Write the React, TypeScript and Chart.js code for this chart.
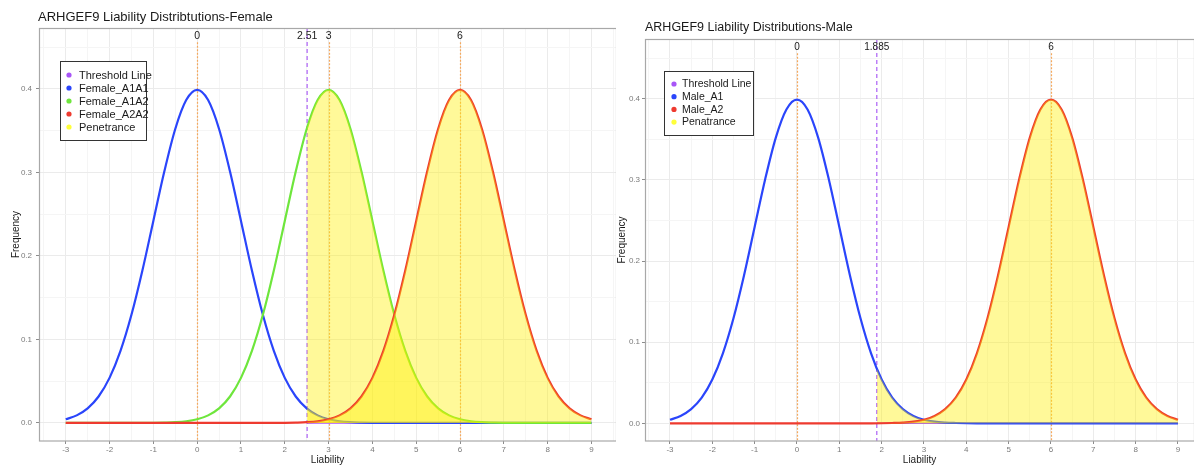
import React, { useEffect, useRef } from "react";
import { Chart, registerables } from "chart.js";

Chart.register(...registerables);

const FONT = '"Liberation Sans", Arial, Helvetica, sans-serif';

// ---------------- data ----------------
const xLiability = [
  -3, -2.75, -2.5, -2.25, -2, -1.75, -1.5, -1.25, -1, -0.75, -0.5, -0.25, 0,
  0.25, 0.5, 0.75, 1, 1.25, 1.5, 1.75, 2, 2.25, 2.5, 2.75, 3, 3.25, 3.5, 3.75,
  4, 4.25, 4.5, 4.75, 5, 5.25, 5.5, 5.75, 6, 6.25, 6.5, 6.75, 7, 7.25, 7.5,
  7.75, 8, 8.25, 8.5, 8.75, 9,
];

const femaleA1A1 = [
  0.0044, 0.0091, 0.0175, 0.0317, 0.054, 0.0863, 0.1295, 0.1826, 0.242, 0.3011,
  0.3521, 0.3867, 0.3989, 0.3867, 0.3521, 0.3011, 0.242, 0.1826, 0.1295, 0.0863,
  0.054, 0.0317, 0.0175, 0.0091, 0.0044, 0.002, 0.0009, 0.0004, 0.0001, 0, 0, 0,
  0, 0, 0, 0, 0, 0, 0, 0, 0, 0, 0, 0, 0, 0, 0, 0, 0,
];
const femaleA1A2 = [
  0, 0, 0, 0, 0, 0, 0, 0, 0.0001, 0.0004, 0.0009, 0.002, 0.0044, 0.0091, 0.0175,
  0.0317, 0.054, 0.0863, 0.1295, 0.1826, 0.242, 0.3011, 0.3521, 0.3867, 0.3989,
  0.3867, 0.3521, 0.3011, 0.242, 0.1826, 0.1295, 0.0863, 0.054, 0.0317, 0.0175,
  0.0091, 0.0044, 0.002, 0.0009, 0.0004, 0.0001, 0, 0, 0, 0, 0, 0, 0, 0,
];
const femaleA2A2 = [
  0, 0, 0, 0, 0, 0, 0, 0, 0, 0, 0, 0, 0, 0, 0, 0, 0, 0, 0, 0, 0.0001, 0.0004,
  0.0009, 0.002, 0.0044, 0.0091, 0.0175, 0.0317, 0.054, 0.0863, 0.1295, 0.1826,
  0.242, 0.3011, 0.3521, 0.3867, 0.3989, 0.3867, 0.3521, 0.3011, 0.242, 0.1826,
  0.1295, 0.0863, 0.054, 0.0317, 0.0175, 0.0091, 0.0044,
];
const maleA1 = [
  0.0044, 0.0091, 0.0175, 0.0317, 0.054, 0.0863, 0.1295, 0.1826, 0.242, 0.3011,
  0.3521, 0.3867, 0.3989, 0.3867, 0.3521, 0.3011, 0.242, 0.1826, 0.1295, 0.0863,
  0.054, 0.0317, 0.0175, 0.0091, 0.0044, 0.002, 0.0009, 0.0004, 0.0001, 0, 0, 0,
  0, 0, 0, 0, 0, 0, 0, 0, 0, 0, 0, 0, 0, 0, 0, 0, 0,
];
const maleA2 = [
  0, 0, 0, 0, 0, 0, 0, 0, 0, 0, 0, 0, 0, 0, 0, 0, 0, 0, 0, 0, 0.0001, 0.0004,
  0.0009, 0.002, 0.0044, 0.0091, 0.0175, 0.0317, 0.054, 0.0863, 0.1295, 0.1826,
  0.242, 0.3011, 0.3521, 0.3867, 0.3989, 0.3867, 0.3521, 0.3011, 0.242, 0.1826,
  0.1295, 0.0863, 0.054, 0.0317, 0.0175, 0.0091, 0.0044,
];

const femaleThreshold = 2.51;
const femaleThresholdLabel = "2.51";
const femaleAtThreshold = [0.0171, 0.3538, 0.0009];
const femaleMeans = [0, 3, 6];
const femaleMeanLabels = ["0", "3", "6"];

const maleThreshold = 1.885;
const maleThresholdLabel = "1.885";
const maleAtThreshold = [0.0676, 0.0001];
const maleMeans = [0, 6];
const maleMeanLabels = ["0", "6"];

const xTickValues = [-3, -2, -1, 0, 1, 2, 3, 4, 5, 6, 7, 8, 9];
const xTickLabels = ["-3", "-2", "-1", "0", "1", "2", "3", "4", "5", "6", "7", "8", "9"];
const xMinorValues = [-3.5, -2.5, -1.5, -0.5, 0.5, 1.5, 2.5, 3.5, 4.5, 5.5, 6.5, 7.5, 8.5, 9.5];
const yTickValues = [0, 0.1, 0.2, 0.3, 0.4];
const yTickLabels = ["0.0", "0.1", "0.2", "0.3", "0.4"];
const yMinorValues = [0.05, 0.15, 0.25, 0.35, 0.45];

const femaleSeriesNames = ["Female_A1A1", "Female_A1A2", "Female_A2A2"];
const maleSeriesNames = ["Male_A1", "Male_A2"];
const femaleLegendLabels = ["Threshold Line", "Female_A1A1", "Female_A1A2", "Female_A2A2", "Penetrance"];
const maleLegendLabels = ["Threshold Line", "Male_A1", "Male_A2", "Penatrance"];

// ---------------- styles ----------------
const C_PURPLE = "#a855f7";
const C_BLUE = "#2a45fb";
const C_GREEN = "#6ee63c";
const C_RED = "#ee3a2f";
const C_YELLOW = "#ffff3a";
const FILL_YELLOW = "rgba(255,240,0,0.40)";

const femaleColors = [C_BLUE, C_GREEN, C_RED];
const maleColors = [C_BLUE, C_RED];
const femaleLegendColors = [C_PURPLE, C_BLUE, C_GREEN, C_RED, C_YELLOW];
const maleLegendColors = [C_PURPLE, C_BLUE, C_RED, C_YELLOW];

type Geo = {
  left: number;
  width: number;
  padTop: number;
  yAxisWidth: number;
  xMin: number;
  xMax: number;
  yMin: number;
  yMax: number;
  yTickPad: number;
  yTitlePad: number;
  titleX: number;
  titleY: number;
  titleSize: number;
  legendBox: [number, number, number, number];
  legendRow0: number;
  legendStep: number;
  legendDotX: number;
  legendTextX: number;
  legendFont: number;
  labelFont: number;
};

type PanelCfg = {
  title: string;
  names: string[];
  series: number[][];
  colors: string[];
  threshold: number;
  thresholdLabel: string;
  atThreshold: number[];
  means: number[];
  meanLabels: string[];
  legendLabels: string[];
  legendColors: string[];
  geo: Geo;
};

const femaleCfg: PanelCfg = {
  title: "ARHGEF9 Liability Distribtutions-Female",
  names: femaleSeriesNames,
  series: [femaleA1A1, femaleA1A2, femaleA2A2],
  colors: femaleColors,
  threshold: femaleThreshold,
  thresholdLabel: femaleThresholdLabel,
  atThreshold: femaleAtThreshold,
  means: femaleMeans,
  meanLabels: femaleMeanLabels,
  legendLabels: femaleLegendLabels,
  legendColors: femaleLegendColors,
  geo: {
    left: 0,
    width: 616,
    padTop: 28,
    yAxisWidth: 39,
    xMin: -3.61,
    xMax: 9.56,
    yMin: -0.0216,
    yMax: 0.473,
    yTickPad: 4,
    yTitlePad: 10,
    titleX: 38,
    titleY: 17,
    titleSize: 13,
    legendBox: [60, 61, 86, 79],
    legendRow0: 75,
    legendStep: 13,
    legendDotX: 69,
    legendTextX: 79,
    legendFont: 11,
    labelFont: 10.5,
  },
};

const maleCfg: PanelCfg = {
  title: "ARHGEF9 Liability Distributions-Male",
  names: maleSeriesNames,
  series: [maleA1, maleA2],
  colors: maleColors,
  threshold: maleThreshold,
  thresholdLabel: maleThresholdLabel,
  atThreshold: maleAtThreshold,
  means: maleMeans,
  meanLabels: maleMeanLabels,
  legendLabels: maleLegendLabels,
  legendColors: maleLegendColors,
  geo: {
    left: 616,
    width: 578,
    padTop: 39,
    yAxisWidth: 29,
    xMin: -3.59,
    xMax: 9.378,
    yMin: -0.0218,
    yMax: 0.4736,
    yTickPad: 2,
    yTitlePad: 0,
    titleX: 29,
    titleY: 28,
    titleSize: 12.5,
    legendBox: [48, 71, 89, 64],
    legendRow0: 84,
    legendStep: 12.7,
    legendDotX: 58,
    legendTextX: 66,
    legendFont: 10.5,
    labelFont: 10,
  },
};

const near = (a: number, b: number) => Math.abs(a - b) < 1e-9;
const isIn = (arr: number[], v: number) => arr.some((a) => near(a, v));

function makeDecor(cfg: PanelCfg) {
  const g = cfg.geo;
  return {
    id: "panelDecor",
    beforeDatasetsDraw(chart: any) {
      const { ctx, chartArea: a, scales } = chart;
      const x = scales.x;
      const y = scales.y;
      ctx.save();
      ctx.beginPath();
      ctx.rect(a.left, a.top, a.right - a.left, a.bottom - a.top);
      ctx.clip();
      ctx.strokeStyle = "#f5a85c";
      ctx.lineWidth = 1.2;
      ctx.setLineDash([2, 1.5]);
      cfg.means.forEach((m) => {
        const px = Math.round(x.getPixelForValue(m)) + 0.5;
        ctx.beginPath();
        ctx.moveTo(px, y.getPixelForValue(0.456));
        ctx.lineTo(px, a.bottom);
        ctx.stroke();
      });
      ctx.strokeStyle = "#b26cf6";
      ctx.lineWidth = 1.3;
      ctx.setLineDash([4, 3]);
      const tx = x.getPixelForValue(cfg.threshold);
      ctx.beginPath();
      ctx.moveTo(tx, a.top);
      ctx.lineTo(tx, a.bottom);
      ctx.stroke();
      ctx.restore();
    },
    afterDraw(chart: any) {
      const { ctx, chartArea: a, scales } = chart;
      const x = scales.x;
      const y = scales.y;
      ctx.save();
      // panel border
      ctx.strokeStyle = "#a8a8a8";
      ctx.lineWidth = 1.2;
      ctx.setLineDash([]);
      ctx.strokeRect(a.left + 0.5, a.top + 0.5, a.right - a.left, a.bottom - a.top - 0.5);
      // top labels
      ctx.fillStyle = "#1a1a1a";
      ctx.font = `${g.labelFont}px ${FONT}`;
      ctx.textAlign = "center";
      ctx.textBaseline = "middle";
      const ly = y.getPixelForValue(0.463);
      cfg.means.forEach((m, i) => {
        ctx.fillText(cfg.meanLabels[i], x.getPixelForValue(m), ly);
      });
      ctx.fillText(cfg.thresholdLabel, x.getPixelForValue(cfg.threshold), ly);
      // legend
      const [bx, by, bw, bh] = g.legendBox;
      ctx.fillStyle = "#ffffff";
      ctx.fillRect(bx, by, bw, bh);
      ctx.strokeStyle = "#333333";
      ctx.lineWidth = 1;
      ctx.strokeRect(bx + 0.5, by + 0.5, bw, bh);
      ctx.font = `${g.legendFont}px ${FONT}`;
      ctx.textAlign = "left";
      cfg.legendLabels.forEach((lab, i) => {
        const ry = g.legendRow0 + i * g.legendStep;
        ctx.fillStyle = cfg.legendColors[i];
        ctx.beginPath();
        ctx.arc(g.legendDotX, ry, 2.6, 0, Math.PI * 2);
        ctx.fill();
        ctx.fillStyle = "#1a1a1a";
        ctx.fillText(lab, g.legendTextX, ry + 0.5);
      });
      // title
      ctx.font = `${g.titleSize}px ${FONT}`;
      ctx.fillStyle = "#1a1a1a";
      ctx.textAlign = "left";
      ctx.textBaseline = "middle";
      ctx.fillText(cfg.title, g.titleX, g.titleY);
      ctx.restore();
    },
  };
}

function buildConfig(cfg: PanelCfg): any {
  const g = cfg.geo;
  const datasets: any[] = [];
  datasets.push({
    label: "Threshold Line",
    data: [
      { x: cfg.threshold, y: 0 },
      { x: 9, y: 0 },
    ],
    borderColor: C_PURPLE,
    borderWidth: 1.4,
    pointRadius: 0,
    fill: false,
    order: 100,
  });
  cfg.series.forEach((vals, i) => {
    const pts = xLiability.map((xv, j) => ({ x: xv, y: vals[j] }));
    datasets.push({
      label: cfg.names[i],
      data: pts,
      borderColor: cfg.colors[i],
      borderWidth: 2.2,
      pointRadius: 0,
      fill: false,
      cubicInterpolationMode: "monotone",
      order: 50 - 2 * i,
    });
    const fillPts = [{ x: cfg.threshold, y: cfg.atThreshold[i] }].concat(
      pts.filter((p) => p.x > cfg.threshold)
    );
    datasets.push({
      label: "Penetrance " + cfg.names[i],
      data: fillPts,
      borderWidth: 0,
      borderColor: "rgba(0,0,0,0)",
      backgroundColor: FILL_YELLOW,
      pointRadius: 0,
      fill: "origin",
      cubicInterpolationMode: "monotone",
      order: 49 - 2 * i,
    });
  });

  const xAll = xTickValues.concat(xMinorValues).filter((v) => v >= g.xMin && v <= g.xMax).sort((a, b) => a - b);
  const yAll = yTickValues.concat(yMinorValues).filter((v) => v >= g.yMin && v <= g.yMax).sort((a, b) => a - b);

  return {
    type: "line",
    data: { datasets },
    options: {
      animation: false,
      responsive: false,
      maintainAspectRatio: false,
      parsing: true,
      layout: { padding: { top: g.padTop, left: 0, right: 0, bottom: 0 } },
      plugins: {
        legend: { display: false },
        tooltip: { enabled: false },
        title: { display: false },
      },
      scales: {
        x: {
          type: "linear",
          min: g.xMin,
          max: g.xMax,
          afterBuildTicks: (s: any) => {
            s.ticks = xAll.map((v) => ({ value: v }));
          },
          afterFit: (s: any) => {
            s.height = 25;
          },
          border: { display: false },
          grid: {
            color: (c: any) => (c.tick && isIn(xTickValues, c.tick.value) ? "#ebebeb" : "#f5f5f5"),
            lineWidth: 1,
            tickLength: 3,
            tickColor: (c: any) => (c.tick && isIn(xTickValues, c.tick.value) ? "#8c8c8c" : "rgba(0,0,0,0)"),
          },
          ticks: {
            autoSkip: false,
            maxRotation: 0,
            minRotation: 0,
            padding: 1,
            color: "#7a7a7a",
            font: { size: 8, family: FONT },
            callback: (v: number) => {
              const k = xTickValues.findIndex((t) => near(t, v));
              return k >= 0 ? xTickLabels[k] : "";
            },
          },
          title: {
            display: true,
            text: "Liability",
            color: "#1a1a1a",
            font: { size: 10, family: FONT },
            padding: { top: 0, bottom: 0 },
          },
        },
        y: {
          type: "linear",
          min: g.yMin,
          max: g.yMax,
          afterBuildTicks: (s: any) => {
            s.ticks = yAll.map((v) => ({ value: v }));
          },
          afterFit: (s: any) => {
            s.width = g.yAxisWidth;
          },
          border: { display: false },
          grid: {
            color: (c: any) => (c.tick && isIn(yTickValues, c.tick.value) ? "#ebebeb" : "#f5f5f5"),
            lineWidth: 1,
            tickLength: 3,
            tickColor: (c: any) => (c.tick && isIn(yTickValues, c.tick.value) ? "#8c8c8c" : "rgba(0,0,0,0)"),
          },
          ticks: {
            autoSkip: false,
            padding: g.yTickPad,
            color: "#7a7a7a",
            font: { size: 8, family: FONT },
            callback: (v: number) => {
              const k = yTickValues.findIndex((t) => near(t, v));
              return k >= 0 ? yTickLabels[k] : "";
            },
          },
          title: {
            display: true,
            text: "Frequency",
            color: "#1a1a1a",
            font: { size: 10, family: FONT },
            padding: { top: g.yTitlePad, bottom: 0 },
          },
        },
      },
    },
    plugins: [makeDecor(cfg)],
  };
}

function Panel({ cfg }: { cfg: PanelCfg }) {
  const ref = useRef<HTMLCanvasElement | null>(null);
  useEffect(() => {
    if (!ref.current) return;
    const chart = new Chart(ref.current, buildConfig(cfg));
    return () => chart.destroy();
  }, [cfg]);
  return (
    <canvas
      ref={ref}
      width={cfg.geo.width}
      height={466}
      style={{
        position: "absolute",
        left: cfg.geo.left,
        top: 0,
        width: cfg.geo.width,
        height: 466,
        display: "block",
      }}
    />
  );
}

export default function App() {
  return (
    <div
      style={{
        position: "absolute",
        left: 0,
        top: 0,
        width: 1194,
        height: 466,
        background: "#ffffff",
        overflow: "hidden",
      }}
    >
      <Panel cfg={femaleCfg} />
      <Panel cfg={maleCfg} />
    </div>
  );
}
